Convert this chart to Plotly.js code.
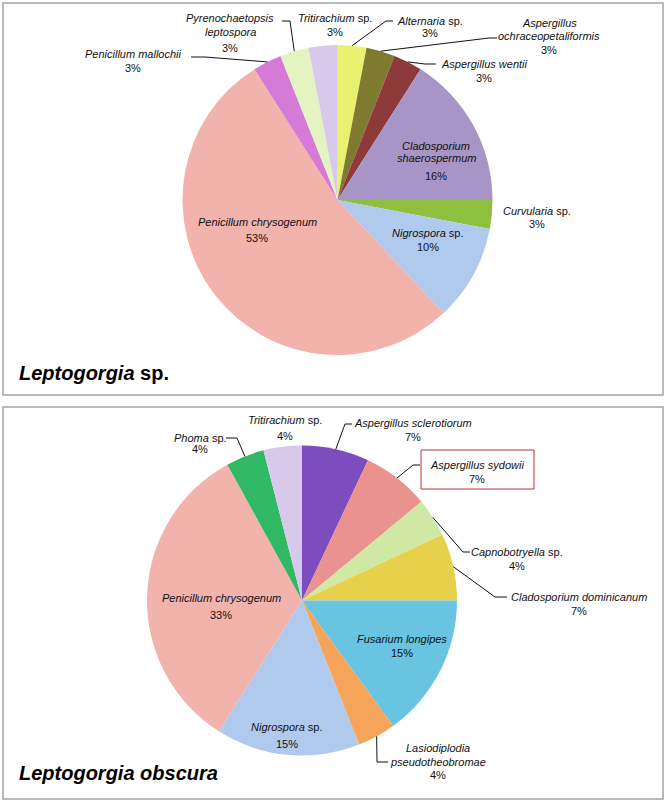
<!DOCTYPE html>
<html><head><meta charset="utf-8">
<script src="https://cdn.plot.ly/plotly-3.0.1.min.js"></script>
<style>html,body{margin:0;padding:0;background:#fff;}</style>
</head><body><div id="chart" style="width:666px;height:802px;"></div>
<script>
// ---------- DATA ----------
const topLabels = ["Alternaria sp.", "Aspergillus ochraceopetaliformis", "Aspergillus wentii",
  "Cladosporium shaerospermum", "Curvularia sp.", "Nigrospora sp.", "Penicillum chrysogenum",
  "Penicillum mallochii", "Pyrenochaetopsis leptospora", "Tritirachium sp."];
const topValues = [3, 3, 3, 16, 3, 10, 53, 3, 3, 3];
const topColors = ["#e9f26f", "#7e7a2f", "#8e3a3b", "#a895c7", "#8fbf3f", "#b0caee",
  "#f2b3ad", "#d67ad8", "#e3f4c2", "#d8c8ea"];

const botLabels = ["Aspergillus sclerotiorum", "Aspergillus sydowii", "Capnobotryella sp.",
  "Cladosporium dominicanum", "Fusarium longipes", "Lasiodiplodia pseudotheobromae",
  "Nigrospora sp.", "Penicillum chrysogenum", "Phoma sp.", "Tritirachium sp."];
const botValues = [7, 7, 4, 7, 15, 4, 15, 33, 4, 4];
const botColors = ["#7e4dbd", "#ea938e", "#cfe9a5", "#e8d14a", "#68c4e0", "#f6a45a",
  "#b0caee", "#f2b3ad", "#30b865", "#d8c8ea"];

const topTitle = "Leptogorgia sp.";
const botTitle = "Leptogorgia obscura";

// ---------- LAYOUT (positions in px) ----------
const W = 666, H = 802;
const FONT = "Liberation Sans, Arial, Helvetica, sans-serif";
const topGeom = {cx: 337.5, cy: 200, r: 155};
const botGeom = {cx: 302, cy: 600.5, r: 155};

// split: break name into two lines; leader: points after slice edge
const topPlace = [
  {x: 430, ys: [21], py: 33, leader: [[386, 21], [393, 21]]},
  {x: 549, ys: [23, 36], py: 50, split: true, leader: [[489, 38], [497, 38]]},
  {x: 484, ys: [64], py: 78, leader: [[425, 64], [436, 64]]},
  {x: 436, ys: [146, 158], py: 176, split: true},
  {x: 537, ys: [211], py: 224},
  {x: 428, ys: [233], py: 247},
  {x: 257, ys: [222], py: 238},
  {x: 133, ys: [54], py: 68, leader: [[205, 57], [191, 57]]},
  {x: 230, ys: [18, 32], py: 48, split: true, leader: [[290, 21], [282, 21]]},
  {x: 335, ys: [18], py: 32}
];
const botPlace = [
  {x: 413, ys: [423], py: 437, leader: [[345, 424], [352, 424]]},
  {x: 477, ys: [465], py: 479, leader: [[413, 465], [420, 465]], box: [421, 450, 534, 489]},
  {x: 517, ys: [552], py: 566, leader: [[463, 552], [470, 552]]},
  {x: 579, ys: [597], py: 611, leader: [[495, 597], [507, 597]]},
  {x: 402, ys: [639], py: 653},
  {x: 438, ys: [748, 762], py: 775, split: true, leader: [[377, 762], [388, 762]]},
  {x: 287, ys: [727], py: 744},
  {x: 221, ys: [598], py: 615},
  {x: 200, ys: [438], py: 449, leader: [[237, 438], [226, 438]]},
  {x: 285, ys: [420], py: 436}
];

const px = x => x / W;
const py = y => 1 - y / H;

function fmtName(name) {
  if (name.endsWith(" sp.")) return "<i>" + name.slice(0, -4) + "</i> sp.";
  return "<i>" + name + "</i>";
}
function nameLines(name, split) {
  if (!split) return [fmtName(name)];
  const i = name.indexOf(" ");
  return [fmtName(name.slice(0, i)), fmtName(name.slice(i + 1))];
}

const annotations = [];
const shapes = [];

function build(labels, values, geom, place) {
  const total = values.reduce((a, b) => a + b, 0);
  let cum = 0;
  labels.forEach((lab, i) => {
    const mid = (cum + values[i] / 2) / total;
    cum += values[i];
    const p = place[i];
    const lines = nameLines(lab, p.split);
    lines.forEach((t, k) => annotations.push({
      text: t, x: px(p.x), y: py(p.ys[k]), xref: "paper", yref: "paper",
      xanchor: "center", yanchor: "middle", showarrow: false,
      font: {family: FONT, size: 11, color: "#111"}
    }));
    annotations.push({
      text: Math.round(values[i] / total * 100) + "%", x: px(p.x), y: py(p.py),
      xref: "paper", yref: "paper", xanchor: "center", yanchor: "middle", showarrow: false,
      font: {family: FONT, size: 11, color: "#111"}
    });
    if (p.leader) {
      const th = 2 * Math.PI * mid;
      const ex = geom.cx + geom.r * Math.sin(th), ey = geom.cy - geom.r * Math.cos(th);
      let path = "M" + px(ex) + "," + py(ey);
      p.leader.forEach(q => { path += " L" + px(q[0]) + "," + py(q[1]); });
      shapes.push({type: "path", path: path, xref: "paper", yref: "paper",
        line: {color: "#111", width: 1}});
    }
    if (p.box) {
      shapes.push({type: "rect", xref: "paper", yref: "paper",
        x0: px(p.box[0]), x1: px(p.box[2]), y0: py(p.box[3]), y1: py(p.box[1]),
        line: {color: "#b83232", width: 1}});
    }
  });
}
build(topLabels, topValues, topGeom, topPlace);
build(botLabels, botValues, botGeom, botPlace);

// panel frames
shapes.push({type: "rect", xref: "paper", yref: "paper", x0: px(3), x1: px(663), y0: py(395), y1: py(3),
  line: {color: "#a3a3a3", width: 1.5}, layer: "below"});
shapes.push({type: "rect", xref: "paper", yref: "paper", x0: px(3), x1: px(663), y0: py(799), y1: py(407),
  line: {color: "#a3a3a3", width: 1.5}, layer: "below"});

// titles
function fmtTitle(t) {
  if (t.endsWith(" sp.")) return "<b><i>" + t.slice(0, -4) + "</i> sp.</b>";
  return "<b><i>" + t + "</i></b>";
}
annotations.push({text: fmtTitle(topTitle), x: px(17), y: py(373), xref: "paper", yref: "paper",
  xanchor: "left", yanchor: "middle", showarrow: false, font: {family: FONT, size: 20, color: "#000"}});
annotations.push({text: fmtTitle(botTitle), x: px(17), y: py(773), xref: "paper", yref: "paper",
  xanchor: "left", yanchor: "middle", showarrow: false, font: {family: FONT, size: 20, color: "#000"}});

function dom(g) {
  return {x: [px(g.cx - g.r), px(g.cx + g.r)], y: [py(g.cy + g.r), py(g.cy - g.r)]};
}

const traces = [
  {type: "pie", labels: topLabels, values: topValues, sort: false, direction: "clockwise",
   rotation: 0, textinfo: "none", hoverinfo: "label+percent", domain: dom(topGeom),
   marker: {colors: topColors, line: {width: 0}}, showlegend: false},
  {type: "pie", labels: botLabels, values: botValues, sort: false, direction: "clockwise",
   rotation: 0, textinfo: "none", hoverinfo: "label+percent", domain: dom(botGeom),
   marker: {colors: botColors, line: {width: 0}}, showlegend: false}
];

Plotly.newPlot("chart", traces, {
  width: W, height: H, margin: {l: 0, r: 0, t: 0, b: 0},
  paper_bgcolor: "#fff", showlegend: false,
  annotations: annotations, shapes: shapes,
  font: {family: FONT}
}, {displayModeBar: false, staticPlot: true});
</script></body></html>
